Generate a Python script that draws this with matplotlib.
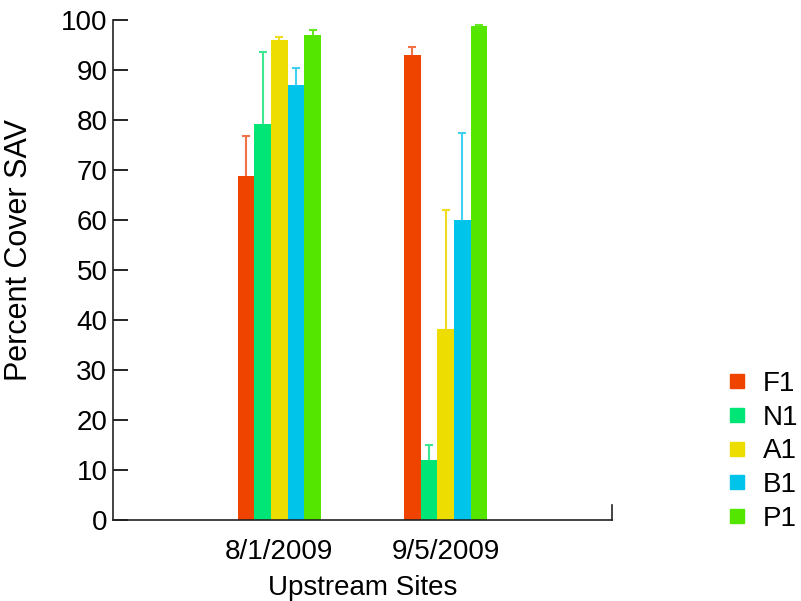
import numpy as np
import matplotlib.pyplot as plt
from matplotlib.lines import Line2D

plt.rcParams['font.family'] = ['Liberation Sans', 'DejaVu Sans']

dates = ["8/1/2009", "9/5/2009"]
sites = ["F1", "N1", "A1", "B1", "P1"]
colors = ["#ee4400", "#00e676", "#eedd00", "#00c4ea", "#55e600"]
err_colors = ["#f07048", "#3ee890", "#eedd20", "#40d0f0", "#66e820"]

# percent cover per site, one value per date
means = {
    "F1": [68.8, 93.0],
    "N1": [79.2, 11.9],
    "A1": [96.0, 38.2],
    "B1": [87.0, 60.0],
    "P1": [97.1, 98.8],
}
# upper error per site
errs = {
    "F1": [8.1, 1.7],
    "N1": [14.5, 3.0],
    "A1": [0.7, 23.8],
    "B1": [3.5, 17.5],
    "P1": [1.0, 0.2],
}

fig = plt.figure(figsize=(8.01, 6.01), dpi=100)
ax = fig.add_axes([0.141, 0.1348, 0.623, 0.8319])

x = np.arange(len(dates))
w = 0.1
handles = []
for i, s in enumerate(sites):
    pos = x + (i - 2) * w
    ax.bar(pos, means[s], width=w, color=colors[i], zorder=2)
    eb = ax.errorbar(pos, means[s], yerr=[np.zeros(len(dates)), errs[s]],
                     fmt='none', ecolor=err_colors[i], elinewidth=1.5,
                     capsize=3, capthick=1.5, zorder=3)
    eb[1][0].set_visible(False)  # only the upper cap
    handles.append(Line2D([], [], marker='s', linestyle='none',
                          markersize=10, color=colors[i], label=s))

ax.set_xlim(-1, 2)
ax.set_ylim(0, 100)
ax.set_yticks(range(0, 101, 10))
ax.set_xticks(x)
ax.set_xticklabels(dates)
ax.tick_params(axis='y', labelsize=20, length=11, width=1.2, direction='in', pad=4)
ax.tick_params(axis='x', labelsize=20, length=0, pad=14)

ax.spines['top'].set_visible(False)
ax.spines['right'].set_bounds(0, 3)
for sp in ['left', 'bottom', 'right']:
    ax.spines[sp].set_linewidth(1.2)
    ax.spines[sp].set_color('#222222')

ax.set_xlabel("Upstream Sites", fontsize=20, labelpad=7)
ax.set_ylabel("Percent Cover SAV", fontsize=22)
ax.yaxis.set_label_coords(-0.158, 0.54)

fig.legend(handles=handles, loc='upper left', bbox_to_anchor=(0.886, 0.406),
           frameon=False, fontsize=20, handletextpad=0.4, labelspacing=0.28,
           handlelength=1.0, borderpad=0)

fig.savefig("out.png", dpi=100)
